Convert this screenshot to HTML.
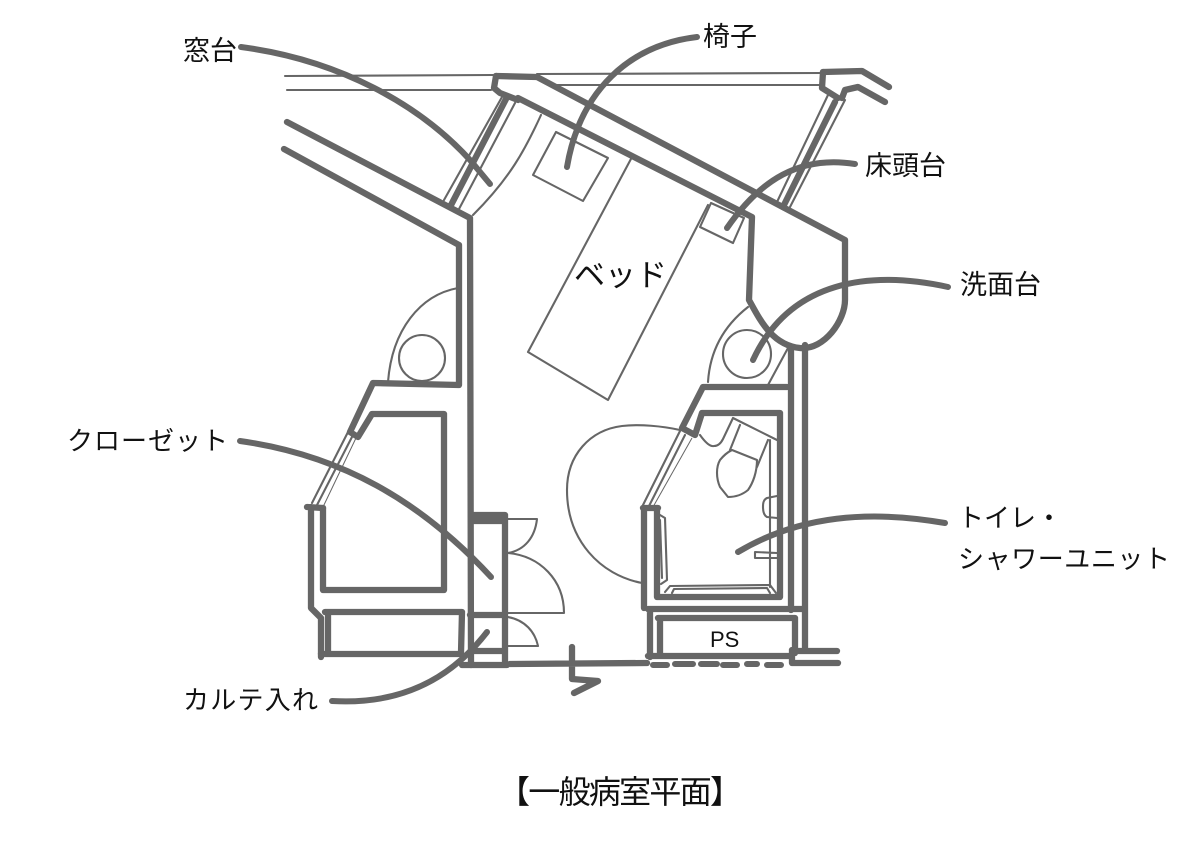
<!DOCTYPE html>
<html lang="ja"><head><meta charset="utf-8"><style>
html,body{margin:0;padding:0;background:#fff}
svg{display:block}
text{font-family:"Liberation Sans","Noto Sans CJK JP",sans-serif;fill:#111}
.w{fill:none;stroke:#666;stroke-width:6.3;stroke-linecap:round;stroke-linejoin:round}
.t{fill:none;stroke:#666;stroke-width:2.1;stroke-linecap:round;stroke-linejoin:round}
.h{fill:none;stroke:#666;stroke-width:1}
.l{fill:none;stroke:#666;stroke-width:6;stroke-linecap:round}
</style></head><body>
<svg width="1200" height="848" viewBox="0 0 1200 848" xmlns="http://www.w3.org/2000/svg">
<!-- top lines -->
<path class="t" d="M285 76L493 75M287 90L491 90M537 74L823 73M553 85L821 85"/>
<!-- outer walls upper -->
<path class="w" d="M287 122L470 218L471 665M284 149L459 245L459 385L373 383L350 432L358 437L372 414L444 414L444 590L323 590L323 508"/>
<path class="w" d="M496 76L537 77L845 240L845 300C845 320 825 350 800 348C772 345 760 320 749 300L752 217L518 98"/>
<path class="w" d="M496 76L494 88L500 93L518 100"/>
<!-- left window -->
<path class="t" d="M502 97L444 200M515 103L459 209"/><path class="w" d="M506 99L450 207"/>
<path class="t" d="M541 115C525 150 510 178 473 215"/>
<!-- right window -->
<path class="w" d="M823 72L862 71L889 87"/>
<path class="w" d="M823 72L822 88L838 98M842 98L845 90L858 87L885 102"/>
<path class="t" d="M828 95L777 202M845 100L790 207"/><path class="w" d="M835 102L783 207"/>
<!-- bed, chair, bedside -->
<path class="t" d="M632 157L528 352L608 400L708 205"/>
<path class="t" d="M556 132L533 175L583 201L608 158Z"/>
<path class="t" d="M711 203L700 227L733 243L744 218Z"/>
<!-- sinks -->
<circle class="t" cx="422" cy="358" r="23"/>
<path class="t" d="M458 288C420 295 392 330 388 382"/>
<circle class="t" cx="747" cy="354" r="24"/>
<path class="t" d="M748 307C725 325 710 350 708 382M788 348L768 385"/>
<!-- closet -->
<path class="t" d="M348 432L312 503M353 435L317 505"/><path class="h" d="M356 438L323 507"/>
<path class="w" d="M307 507L323 508M311 507L311 608L321 618L321 657"/>
<path class="w" d="M325 612L462 612L461 653M328 612L328 654M321 654L460 654"/>
<!-- corridor closets -->
<path class="w" d="M473 515L505 515L505 665M473 521L505 521M470 615L505 615M473 651L505 651M462 665L507 665"/>
<path class="w" d="M510 664L647 663M572 647L572 679L598 681L574 693"/>
<!-- doors -->
<path class="t" d="M508 519L537 519C535 537 525 550 508 553C540 556 564 580 564 613L508 613M508 617C525 620 535 632 538 646L508 646"/>
<path class="t" d="M680 430C662 426 640 424 622 426C590 430 567 455 567 490C567 540 600 575 642 583"/>
<!-- toilet unit -->
<path class="w" d="M703 387L682 428L695 435L702 413L780 413L780 597L657 597L657 508M703 387L787 387"/>
<path class="t" d="M680 431L642 507M685 435L648 508"/><path class="h" d="M692 438L653 507"/>
<path class="w" d="M643 508L658 508M644 508L644 608"/>
<path class="w" d="M791 348L791 610M805 345L805 648M648 609L802 609M650 609L650 657M658 618L795 618M660 618L660 655M795 618L795 653M648 656L792 656M792 650L792 663M792 651L837 651M792 663L838 663"/>
<path class="l" d="M653 665L667 665M675 664L693 664M701 664L717 664M723 665L737 665M747 664L757 664M767 665L781 665"/>
<!-- fixtures -->
<path class="t" d="M700 435C705 442 710 447 714 446C718 446 721 443 723 439L733 418L777 440M740 425L730 450M768 440L757 467"/>
<path class="t" d="M732 450L757 460C757 472 753 483 748 490C742 495 735 497 728 497L720 487C716 478 716 467 720 460C724 455 728 452 732 450Z"/>
<path class="t" d="M770 440L770 587M777 496L767 498C763 500 763 504 763 507C763 513 765 516 767 517L777 518M777 553L755 552L755 558L777 558"/>
<path class="t" d="M665 592L670 586L770 585L776 593M672 593L674 589L767 588L770 593"/>
<path class="t" d="M660 515L665 518L667 580L661 584M660 520L662 578"/>
<!-- leaders -->
<path class="l" d="M241 47C340 60 420 105 470 160L490 184"/>
<path class="l" d="M697 37C630 45 580 90 567 167"/>
<path class="l" d="M855 164C800 155 760 180 727 228"/>
<path class="l" d="M948 287C870 270 790 280 753 360"/>
<path class="l" d="M240 441C340 455 420 500 491 577"/>
<path class="l" d="M945 523C870 510 800 515 738 552"/>
<path class="l" d="M332 701C400 705 450 680 487 632"/>
<!-- labels -->
<g font-size="27">
<text x="183" y="60">窓台</text>
<text x="703" y="46">椅子</text>
<text x="865" y="175">床頭台</text>
<text x="960" y="294">洗面台</text>
</g>
<g font-size="26">
<text x="67" y="450" textLength="161">クローゼット</text>
<text x="958" y="527">トイレ・</text>
<text x="958" y="568" textLength="212">シャワーユニット</text>
<text x="183" y="709" textLength="135">カルテ入れ</text>
</g>
<text x="574" y="286" font-size="31">ベッド</text>
<text x="710" y="647" font-size="22">PS</text>
<text x="498" y="803" font-size="32" textLength="244">【一般病室平面】</text>
</svg>
</body></html>
